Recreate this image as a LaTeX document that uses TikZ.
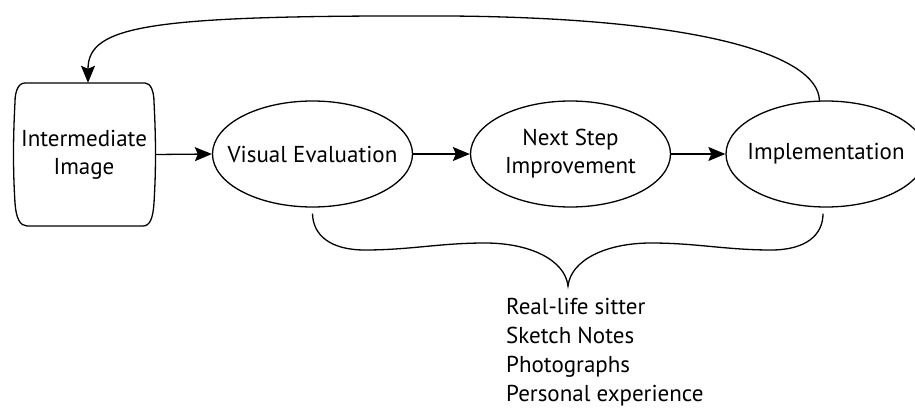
\documentclass[tikz,border=0pt]{standalone}
\usepackage{fontspec}
\setmainfont{PT Sans}
\usepackage{tikz}
\usetikzlibrary{positioning,arrows.meta,shapes.geometric,calc}
\newcommand{\txtsize}{\fontsize{23}{28}\selectfont}
\newcommand{\listsize}{\fontsize{23}{29}\selectfont}
\tikzset{
  stage/.style={ellipse,draw=black,line width=1.3pt,minimum width=200pt,minimum height=106pt,inner xsep=-20pt,inner ysep=0pt,align=center,font=\txtsize},
  imgbox/.style={rectangle,minimum width=142pt,minimum height=143pt,inner sep=0pt,align=center,font=\txtsize},
  outline/.style={draw=black,line width=1.3pt},
  flow/.style={-{Stealth[length=17pt,width=14pt,inset=3pt]},line width=1.3pt},
  bracket/.style={line width=1.3pt},
  srclist/.style={align=left,inner sep=0pt,font=\listsize}
}

\begin{document}
\begin{tikzpicture}[x=1pt,y=1pt]
  \useasboundingbox (0,0) rectangle (915,410);

  % the image being worked on
  \node[imgbox] (img) at (84,255.5) {Intermediate\\Image};
  \draw[outline] (25,327) -- (145,327) .. controls (151,327) and (154,318) .. (154,308)
    .. controls (156,270) and (156,240) .. (154,207)
    .. controls (153,192) and (150,184) .. (143,184) -- (27,184)
    .. controls (20,184) and (16,192) .. (15,207)
    .. controls (13,240) and (13,270) .. (15,308)
    .. controls (15,318) and (18,327) .. (25,327) -- cycle;

  \node[stage] (eval) at (312.5,256) {Visual Evaluation};
  \node[stage] (next) at (570.5,256) {Next Step\\Improvement};
  \node[stage] (impl) at (826,256) {Implementation};

  \draw[flow] (img.east) -- (eval.west);
  \draw[flow] (eval.east) -- (next.west);
  \draw[flow] (next.east) -- (impl.west);

  % feedback loop
  \draw[flow] (impl.97) .. controls (818,355) and (700,392) .. (450,394)
    .. controls (150,395) and (88,385) .. ([xshift=4pt]img.north);

  % sources of information
  \coordinate (bl) at ([yshift=-6pt]eval.south);
  \coordinate (br) at ([yshift=-6pt,xshift=-3pt]impl.south);
  \coordinate (tip) at (568,124);
  \draw[bracket] (bl) .. controls (313,175) and (330,160) .. (365,160)
    .. controls (410,160) and (440,167) .. (485,167)
    .. controls (530,167) and (565,150) .. (tip)
    .. controls (571,150) and (606,167) .. (651,167)
    .. controls (696,167) and (726,160) .. (771,160)
    .. controls (806,160) and (823,175) .. (br);
  \node[srclist,anchor=north west] (src) at (506,112)
    {Real-life sitter\\Sketch Notes\\Photographs\\Personal experience};
\end{tikzpicture}
\end{document}
